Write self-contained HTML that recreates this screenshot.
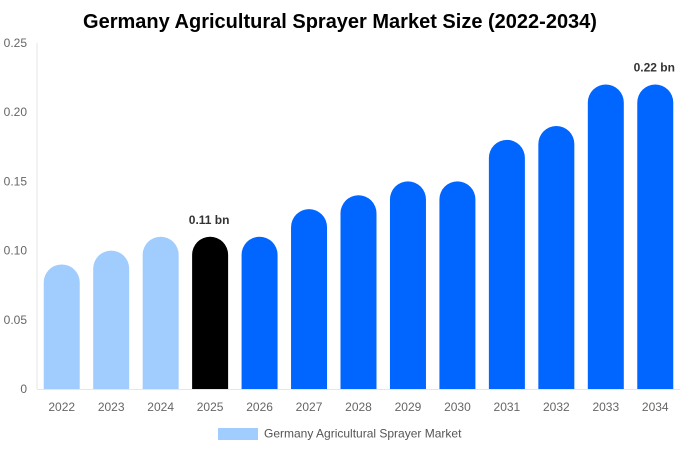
<!DOCTYPE html>
<html><head><meta charset="utf-8"><style>
body{margin:0;background:#fff;font-family:"Liberation Sans",sans-serif;}
</style></head><body>
<svg id="c" width="680" height="450" xmlns="http://www.w3.org/2000/svg">
<text x="340" y="28" text-anchor="middle" font-size="20" font-weight="bold" fill="#000">Germany Agricultural Sprayer Market Size (2022-2034)</text>
<g id="g"></g>
<rect x="218" y="428" width="40" height="12" fill="#a0cdfd"/>
<text x="264" y="437.5" font-size="12" fill="#555">Germany Agricultural Sprayer Market</text>
</svg>
<script>
const categories=["2022","2023","2024","2025","2026","2027","2028","2029","2030","2031","2032","2033","2034"];
const values=[0.09,0.10,0.11,0.11,0.11,0.13,0.14,0.15,0.15,0.18,0.19,0.22,0.22];
const yTicks=[0,0.05,0.10,0.15,0.20,0.25];
const yTickLabels=["0","0.05","0.10","0.15","0.20","0.25"];
const annotations={3:"0.11 bn",12:"0.22 bn"};
const NS="http://www.w3.org/2000/svg";
const g=document.getElementById('g');
const x0=37,x1=680,y0=389,y1=43,yMax=0.25;
const step=(x1-x0)/categories.length;
const y=v=>y0-(v/yMax)*(y0-y1);
const xc=i=>x0+step*(i+0.5);
function mk(t,a){const e=document.createElementNS(NS,t);for(const k in a)e.setAttribute(k,a[k]);g.appendChild(e);return e;}
let ax=mk('line',{x1:x0,y1:y1,x2:x0,y2:y0,stroke:'#e6e6e6'});


let bx=mk('line',{x1:x0,y1:y0+0.5,x2:x1,y2:y0+0.5,stroke:'#e6e6e6'});


yTicks.forEach((t,i)=>{const e=mk('text',{x:27,y:y(t)+4,'text-anchor':'end','font-size':12,fill:'#666'});e.textContent=yTickLabels[i];

});
const bw=36,r=18;
categories.forEach((c,i)=>{
 const col=i<3?'#a0cdfd':(i===3?'#000000':'#0066ff');
 const top=y(values[i]),l=xc(i)-bw/2,h=y0-top;
 const rr=Math.min(r,h);
 const d=`M${l},${y0}V${top+rr}A${rr},${rr} 0 0 1 ${l+bw},${top+rr}V${y0}Z`;
 const b=mk('path',{d:d,fill:col});
 
 
 const t=mk('text',{x:xc(i),y:411,'text-anchor':'middle','font-size':12,fill:'#666'});t.textContent=c;
 
 
 if(annotations[i]){const a=mk('text',{x:xc(i)-1,y:top-13,'text-anchor':'middle','font-size':12,'font-weight':'bold',fill:'#333'});a.textContent=annotations[i];
 
 }
});
</script>
</body></html>
